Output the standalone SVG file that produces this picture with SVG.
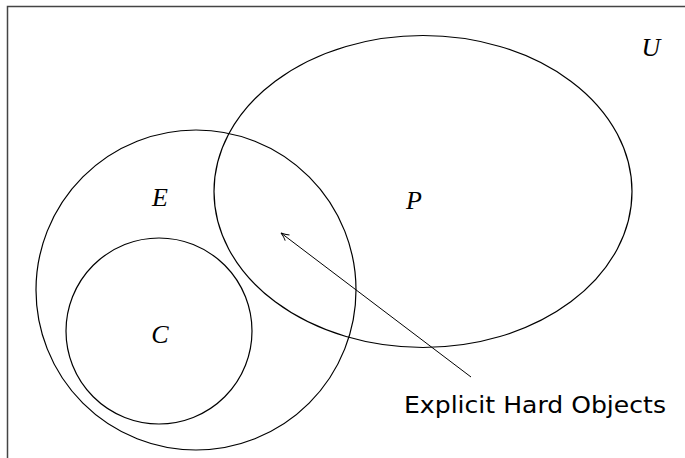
<svg xmlns="http://www.w3.org/2000/svg" width="685" height="458" viewBox="0 0 685 458">
<defs>
<style>
.shape{fill:none;stroke:#000;stroke-width:1.2}
.lbl{font-family:"Liberation Serif",serif;font-style:italic;font-size:26px;fill:#000;text-anchor:middle}
.txt{font-family:"DejaVu Sans","Liberation Sans",sans-serif;font-size:23px;fill:#000}
</style>
<marker id="arr" viewBox="0 0 10 10" refX="9" refY="5" markerWidth="10" markerHeight="10" markerUnits="userSpaceOnUse" orient="auto">
<path d="M1,1.5 Q5,4 9,5 Q5,6 1,8.5" fill="none" stroke="#000" stroke-width="1"/>
</marker>
</defs>
<rect width="685" height="458" fill="#fff"/>
<g id="frame"><path d="M7.5,458 V6.5 H685" fill="none" stroke="#444" stroke-width="1.5"/></g>
<g id="universe"><text class="lbl" x="651" y="56">U</text></g>
<g id="E"><circle class="shape" cx="196" cy="290" r="160"/><text class="lbl" x="160" y="206">E</text></g>
<g id="C"><circle class="shape" cx="159" cy="331" r="93"/><text class="lbl" x="160" y="343">C</text></g>
<g id="P"><ellipse class="shape" cx="423" cy="191.5" rx="209" ry="156"/><text class="lbl" x="414" y="209">P</text></g>
<g id="connectors"><line x1="471" y1="377" x2="281" y2="233" stroke="#000" stroke-width="1" marker-end="url(#arr)"/></g>
<g id="label"><text class="txt" x="404" y="413" textLength="262" lengthAdjust="spacingAndGlyphs">Explicit Hard Objects</text></g>
</svg>
